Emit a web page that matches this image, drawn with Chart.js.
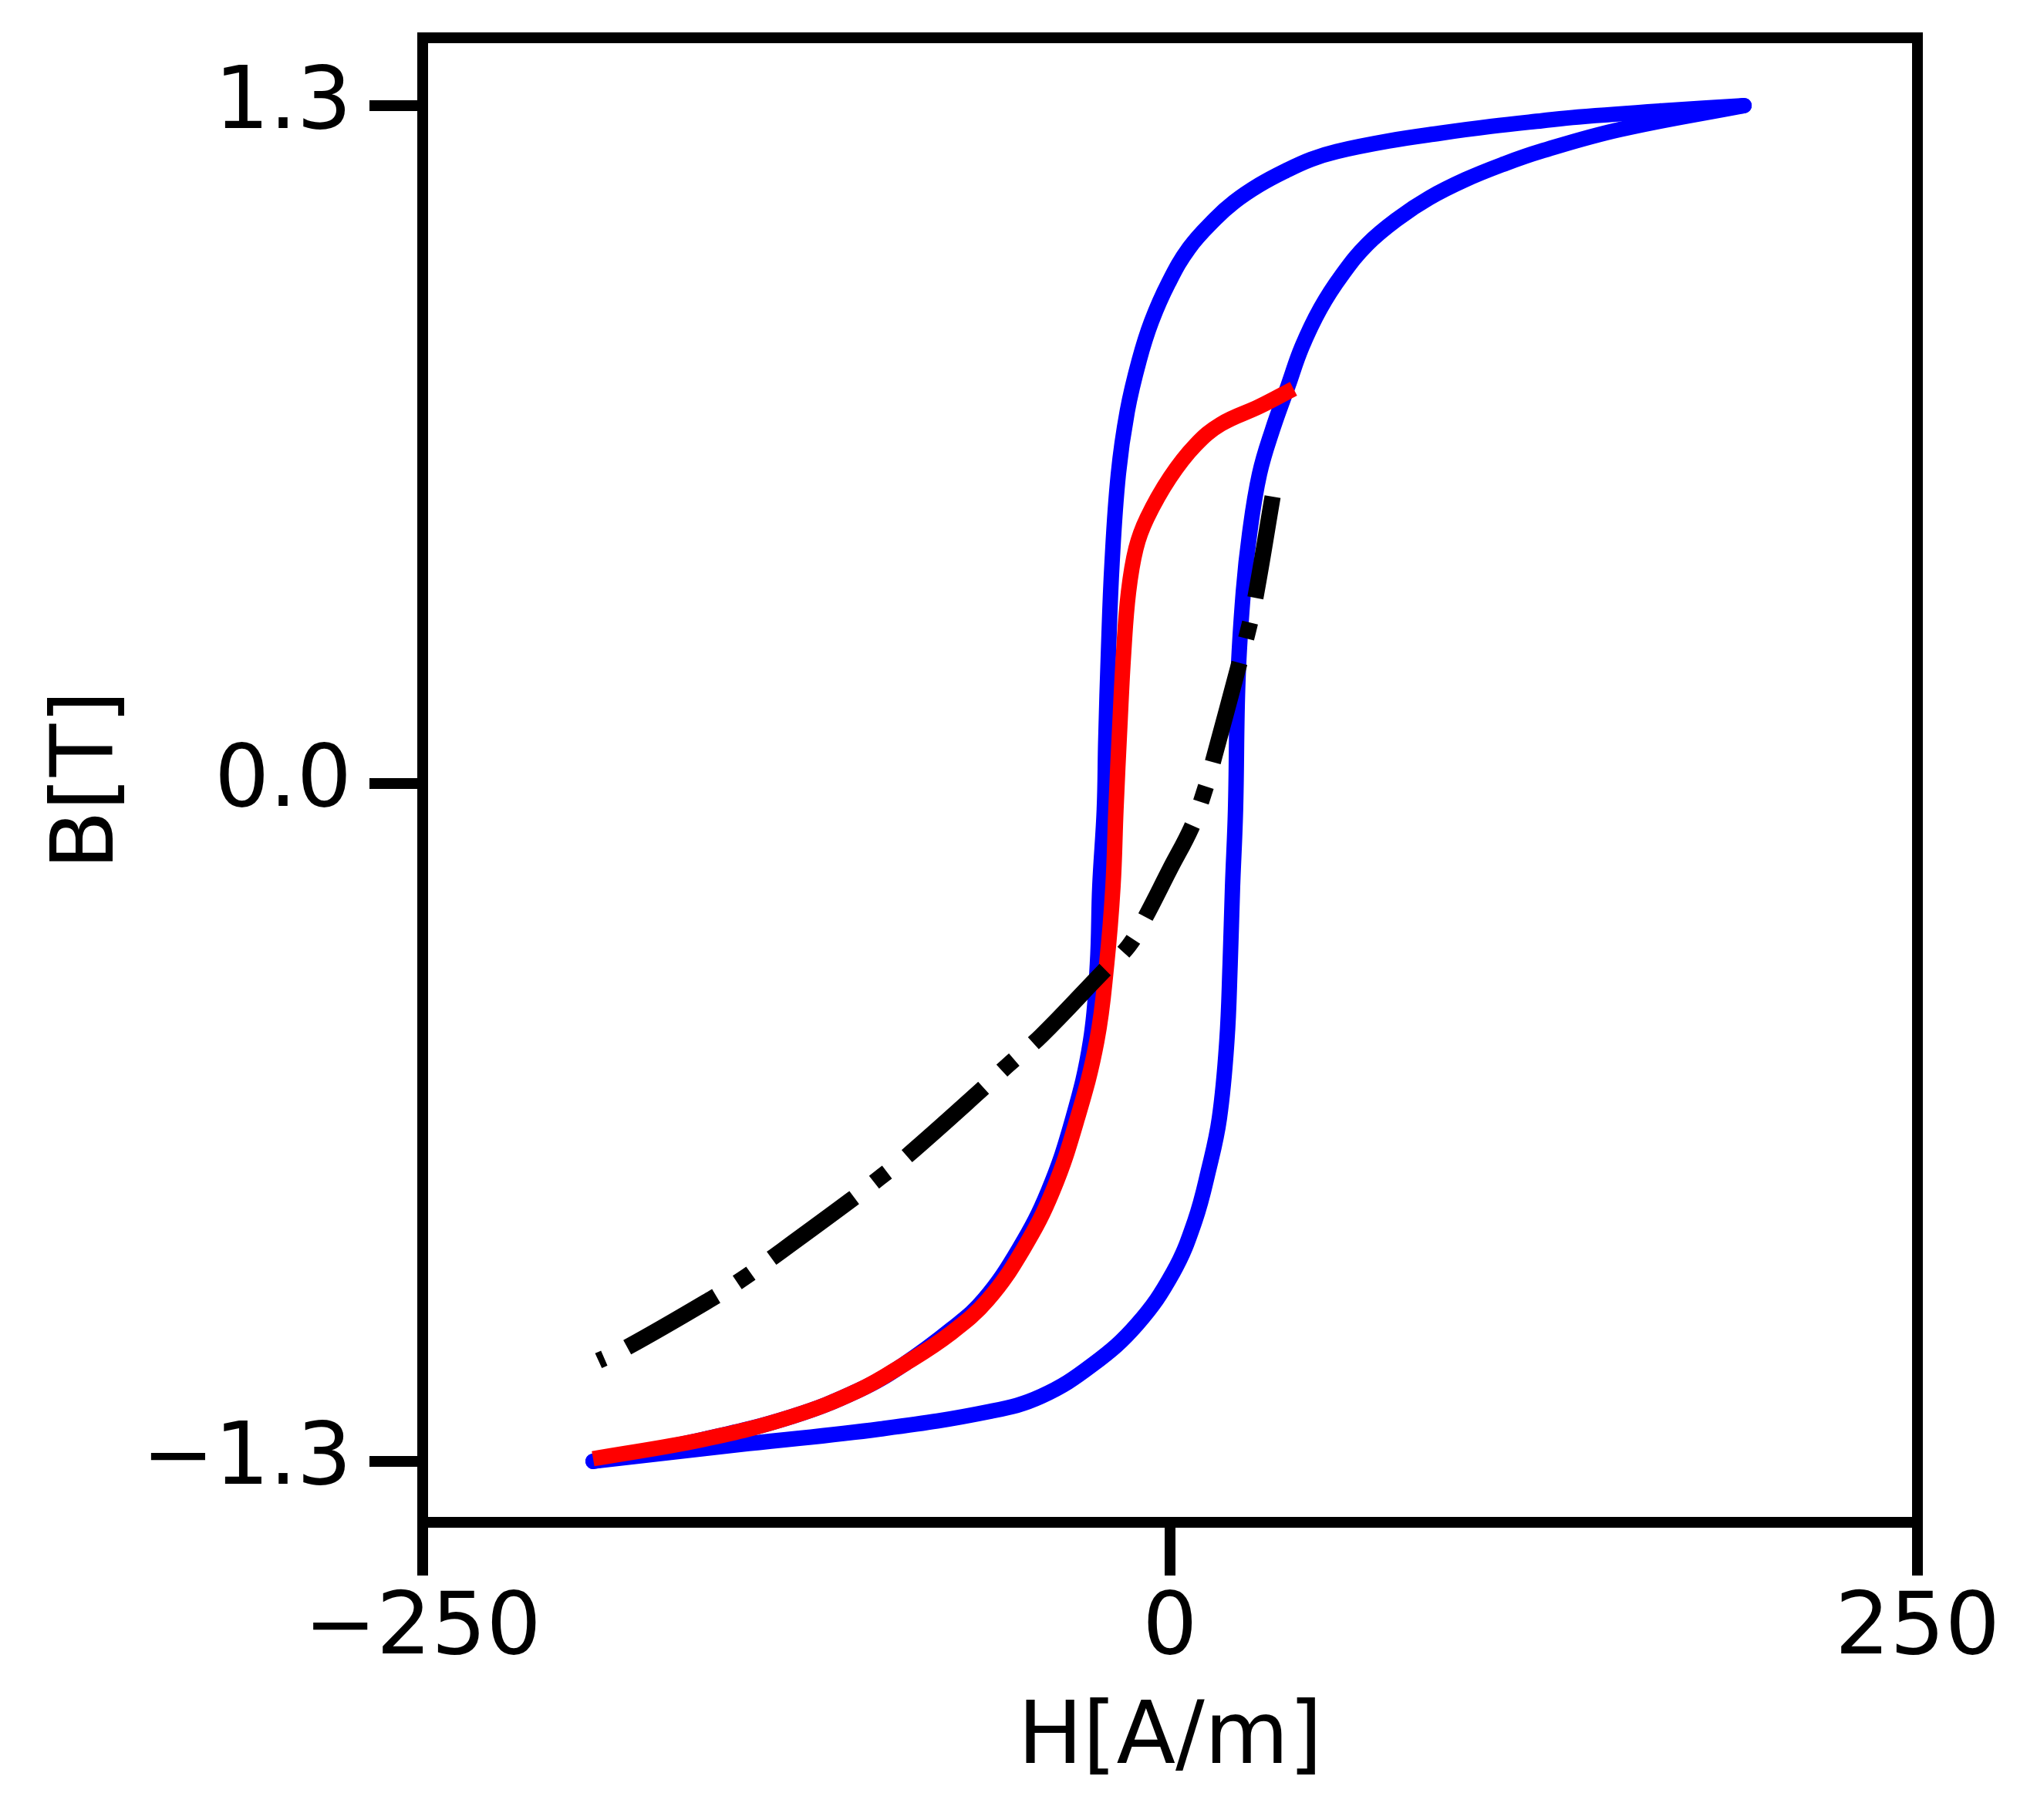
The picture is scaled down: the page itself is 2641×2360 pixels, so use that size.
<!DOCTYPE html>
<html>
<head>
<meta charset="utf-8">
<script src="https://cdn.jsdelivr.net/npm/chart.js@4.4.1/dist/chart.umd.min.js"></script>
<style>
  html, body { margin: 0; padding: 0; background: #ffffff; }
  #grafico { display: block; }
</style>
</head>
<body>
<canvas id="grafico" width="2641" height="2360"></canvas>
<script>
// valores: [H en A/m, B en T]
var ramaSubida = [
  [-193, -1.300], [-141, -1.266], [-97, -1.238], [-60, -1.204], [-43, -1.175],
  [-26, -1.115], [-11, -1.037], [1, -0.938], [8.3, -0.839], [12.9, -0.741],
  [16.5, -0.642], [19.0, -0.494], [20.1, -0.346], [20.9, -0.198], [21.9, -0.050],
  [22.7, 0.197], [24.5, 0.367], [26.6, 0.479], [29.9, 0.593], [34.3, 0.679],
  [39.5, 0.763], [44.1, 0.837], [50.3, 0.911], [57.5, 0.975], [66.0, 1.034],
  [76.4, 1.084], [86.7, 1.123], [98.8, 1.158], [111.7, 1.188], [123.8, 1.212],
  [150.4, 1.254], [192, 1.300]
];
var ramaBajada = [
  [192, 1.300], [164.6, 1.290], [136.5, 1.278], [124.6, 1.271], [107.3, 1.260],
  [90.3, 1.247], [73.0, 1.232], [55.7, 1.212], [47.2, 1.197], [38.7, 1.175],
  [29.9, 1.148], [21.4, 1.115], [15.0, 1.082], [6.4, 1.027], [-0.5, 0.960],
  [-6.2, 0.886], [-10.3, 0.812], [-14.3, 0.714], [-17.3, 0.593], [-19.4, 0.423],
  [-20.6, 0.253], [-21.5, 0.083], [-22.0, -0.050], [-23.5, -0.198], [-24.3, -0.346],
  [-26.6, -0.494], [-32.5, -0.642], [-40.7, -0.781], [-50.5, -0.892], [-62.3, -0.990],
  [-73.0, -1.046], [-89.3, -1.115], [-104.2, -1.164], [-126.4, -1.214], [-156.1, -1.258],
  [-193, -1.300]
];
var curvaRoja = [
  [-193, -1.295], [-156.1, -1.258], [-126.4, -1.214], [-104.2, -1.164], [-89, -1.114],
  [-73.5, -1.055], [-60.9, -0.990], [-49.0, -0.892], [-39.2, -0.781], [-31.0, -0.642],
  [-24.5, -0.494], [-21.2, -0.346], [-19.1, -0.198], [-18.1, -0.050], [-16.8, 0.111],
  [-15.5, 0.253], [-13.9, 0.367], [-11.4, 0.451], [-7.7, 0.509], [0.0, 0.587],
  [8.5, 0.649], [17.0, 0.689], [29.9, 0.723], [41.3, 0.757]
];
// la linea negra empieza arriba, asi el patron de trazos arranca ahi
var curvaNegra = [
  [34.3, 0.550], [28.6, 0.358], [26.1, 0.293], [23.2, 0.231], [14.4, 0.043],
  [11.1, -0.022], [7.2, -0.084], [0.0, -0.164], [-8.3, -0.257], [-13.9, -0.312],
  [-22.4, -0.361], [-43.1, -0.484], [-54.4, -0.541], [-63.0, -0.587], [-88.5, -0.717],
  [-97.3, -0.757], [-106.3, -0.797], [-133.9, -0.913], [-143.2, -0.951], [-153.0, -0.987],
  [-182.1, -1.083], [-191.2, -1.107]
];

var ticksX = [-250, 0, 250];
var ticksY = [-1.3, 0, 1.3];
var rangoX = [-250, 250];
var rangoY = [-1.417, 1.430];

function aPuntos(pares) {
  return pares.map(function (p) { return { x: p[0], y: p[1] }; });
}

function conMenos(texto) {
  return texto.replace('-', '\u2212'); // signo menos como en matplotlib
}

var fuente = { family: 'DejaVu Sans', size: 112 };
var negro = '#000000';

function ejeBase() {
  return {
    type: 'linear',
    grid: {
      drawOnChartArea: false,
      drawTicks: true,
      tickLength: 69,
      tickWidth: 14,
      tickColor: negro,
      lineWidth: 14,
      color: negro
    },
    border: { display: true, color: negro, width: 14 }
  };
}

var ejeX = ejeBase();
ejeX.position = 'bottom';
ejeX.min = rangoX[0];
ejeX.max = rangoX[1];
ejeX.ticks = {
  font: fuente, color: negro, padding: 5, maxRotation: 0, autoSkip: false,
  callback: function (v) { return conMenos(String(v)); }
};
ejeX.title = { display: true, text: 'H[A/m]', font: fuente, color: negro, padding: { top: 0, bottom: 36 } };
ejeX.afterBuildTicks = function (scale) {
  scale.ticks = ticksX.map(function (v) { return { value: v }; });
};
ejeX.afterFit = function (scale) {
  scale.height = 386;
  scale.paddingLeft = 0;
  scale.paddingRight = 0;
};

var ejeY = ejeBase();
ejeY.position = 'left';
ejeY.min = rangoY[0];
ejeY.max = rangoY[1];
ejeY.ticks = {
  font: fuente, color: negro, padding: 23, autoSkip: false,
  callback: function (v) { return conMenos(Number(v).toFixed(1)); }
};
ejeY.title = { display: true, text: 'B[T]', font: fuente, color: negro, padding: { top: 50, bottom: 0 } };
ejeY.afterBuildTicks = function (scale) {
  scale.ticks = ticksY.map(function (v) { return { value: v }; });
};
ejeY.afterFit = function (scale) {
  scale.width = 548;
  scale.paddingTop = 0;
  scale.paddingBottom = 0;
};

// ejes de arriba y derecha solo para cerrar la caja
var ejeArriba = {
  type: 'linear', position: 'top', min: rangoX[0], max: rangoX[1],
  ticks: { display: false },
  grid: { display: false },
  border: { display: true, color: negro, width: 14 },
  afterFit: function (scale) { scale.height = 0; }
};
var ejeDerecha = {
  type: 'linear', position: 'right', min: rangoY[0], max: rangoY[1],
  ticks: { display: false },
  grid: { display: false },
  border: { display: true, color: negro, width: 14 },
  afterFit: function (scale) { scale.width = 0; }
};

var ctx = document.getElementById('grafico').getContext('2d');
var chart = new Chart(ctx, {
  type: 'scatter',
  data: {
    datasets: [
      {
        data: aPuntos(curvaNegra), showLine: true, order: 0,
        borderColor: negro, borderWidth: 21, borderDash: [133, 33, 21, 33],
        borderCapStyle: 'butt', tension: 0.4, pointRadius: 0
      },
      {
        data: aPuntos(curvaRoja), showLine: true, order: 1,
        borderColor: '#ff0000', borderWidth: 20, borderCapStyle: 'butt',
        borderJoinStyle: 'round', tension: 0.4, pointRadius: 0
      },
      {
        data: aPuntos(ramaSubida), showLine: true, order: 2,
        borderColor: '#0000ff', borderWidth: 20, borderCapStyle: 'round',
        borderJoinStyle: 'round', tension: 0.4, pointRadius: 0
      },
      {
        data: aPuntos(ramaBajada), showLine: true, order: 2,
        borderColor: '#0000ff', borderWidth: 20, borderCapStyle: 'round',
        borderJoinStyle: 'round', tension: 0.4, pointRadius: 0
      }
    ]
  },
  options: {
    responsive: false,
    devicePixelRatio: 1,
    animation: false,
    layout: { padding: { top: 49, right: 155, bottom: 0, left: 0 } },
    plugins: {
      legend: { display: false },
      tooltip: { enabled: false }
    },
    scales: {
      x: ejeX,
      y: ejeY,
      xArriba: ejeArriba,
      yDerecha: ejeDerecha
    }
  }
});
</script>
</body>
</html>
